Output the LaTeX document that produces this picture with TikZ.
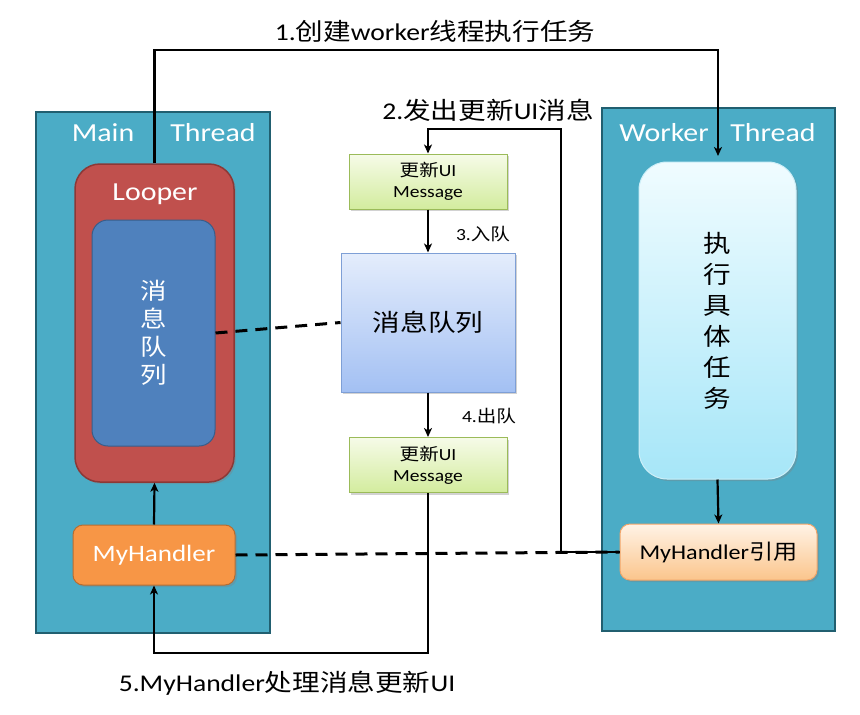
\documentclass[tikz,border=0pt]{standalone}
\usepackage{fontspec}
\setmainfont[FakeStretch=1.15]{Carlito}
\newfontfamily\cjk[FakeStretch=1.15]{Noto Sans CJK SC}
\newcommand\zh[1]{{\cjk #1}}
\usetikzlibrary{arrows.meta,shadows}
\definecolor{panelfill}{HTML}{4BACC6}
\definecolor{paneldraw}{HTML}{215F70}
\definecolor{loopfill}{HTML}{C0504D}
\definecolor{loopdraw}{HTML}{8C3836}
\definecolor{mqfill}{HTML}{4F81BD}
\definecolor{mqdraw}{HTML}{385D8A}
\definecolor{hfill}{HTML}{F79646}
\definecolor{hdraw}{HTML}{B66D31}
\definecolor{msgtop}{HTML}{F6FBE8}
\definecolor{msgbot}{HTML}{D3EC9E}
\definecolor{msgdraw}{HTML}{9BBB59}
\definecolor{qtop}{HTML}{E4EDFC}
\definecolor{qbot}{HTML}{A3C0F3}
\definecolor{qdraw}{HTML}{7E9FD6}
\definecolor{ttop}{HTML}{F0FCFF}
\definecolor{tbot}{HTML}{A6E6F8}
\definecolor{tdraw}{HTML}{CDEFF8}
\definecolor{rtop}{HTML}{FFF3E6}
\definecolor{rbot}{HTML}{FBC58C}
\definecolor{rdraw}{HTML}{F2A66A}
\tikzset{
  box/.style={draw, rectangle, inner sep=0pt, line width=1.5pt},
  panel/.style={box, fill=panelfill, draw=paneldraw},
  shad/.style={drop shadow={opacity=0.35, shadow xshift=2pt, shadow yshift=-2pt}},
  msgbox/.style={box, shad, top color=msgtop, bottom color=msgbot, draw=msgdraw, line width=1pt,
     minimum width=158pt, minimum height=55pt, align=center, font=\fontsize{17}{21}\selectfont},
  conn/.style={line width=2.2pt, -{Stealth[length=9pt,width=8pt,inset=2.5pt]}},
  dashline/.style={line width=3pt, dash pattern=on 12pt off 8pt},
  wlabel/.style={text=white, font=\fontsize{26}{30}\selectfont},
  lbl/.style={font=\fontsize{24}{28}\selectfont},
  slbl/.style={font=\fontsize{17}{20}\selectfont},
}
\begin{document}
\begin{tikzpicture}[x=1pt,y=-1pt]
\fill[white] (0,0) rectangle (860,715);
\useasboundingbox (0,0) rectangle (860,715);

% panels
\node[panel, minimum width=234pt, minimum height=521pt] (mainp) at (153,372.5) {};
\node[panel, minimum width=233pt, minimum height=523pt] (workp) at (718.5,369.5) {};
\node[wlabel] (mainl) at (103,133) {Main};
\node[wlabel] (mainth) at (213,133) {Thread};
\node[wlabel] (workl) at (664,133) {Worker};
\node[wlabel] (workth) at (773,133) {Thread};

% main thread contents
\node[box, shad, fill=loopfill, draw=loopdraw, rounded corners=25pt, minimum width=159pt, minimum height=318pt] (looper) at (154.5,323) {};
\node[wlabel] (looperl) at (155,194) {Looper};
\node[box, fill=mqfill, draw=mqdraw, line width=1pt, rounded corners=16pt, minimum width=123pt, minimum height=226pt, text=white, align=center, font=\fontsize{23}{28}\selectfont\cjk] (mq) at (153.5,333) {消\\息\\队\\列};
\node[box, shad, fill=hfill, draw=hdraw, line width=1pt, rounded corners=10pt, minimum width=162pt, minimum height=60pt, text=white, font=\fontsize{23.5}{28}\selectfont] (myh) at (154,555) {MyHandler};

% worker thread contents
\node[box, shad, top color=ttop, bottom color=tbot, draw=tdraw, line width=1pt, rounded corners=28pt, minimum width=157pt, minimum height=317pt, align=center, font=\fontsize{24}{31}\selectfont\cjk] (task) at (717.5,320.5) {执\\行\\具\\体\\任\\务};
\node[box, shad, top color=rtop, bottom color=rbot, draw=rdraw, line width=1pt, rounded corners=10pt, minimum width=197pt, minimum height=56pt, font=\fontsize{21}{25}\selectfont] (myhref) at (718.5,552) {MyHandler\zh{引用}};

% center column
\node[msgbox] (msg1) at (428,181.5) {\zh{更新}UI\\Message};
\node[box, shad, top color=qtop, bottom color=qbot, draw=qdraw, line width=1pt, minimum width=174pt, minimum height=139pt, font=\fontsize{24}{28}\selectfont\cjk] (queue) at (428,322.5) {消息队列};
\node[msgbox] (msg2) at (428,465) {\zh{更新}UI\\Message};

% labels
\node[lbl] (l1) at (435,31) {1.\zh{创建}worker\zh{线程执行任务}};
\node[lbl] (l2) at (488,110) {2.\zh{发出更新}UI\zh{消息}};
\node[slbl] (l3) at (483,234) {3.\zh{入队}};
\node[slbl] (l4) at (489,416) {4.\zh{出队}};
\node[lbl] (l5) at (287,683) {5.MyHandler\zh{处理消息更新}UI};

% coordinates
\coordinate (c1a) at (154.5,50);
\coordinate (c1b) at (718,50);
\coordinate (t1) at (718,156);
\coordinate (c2a) at (561,552);
\coordinate (c2b) at (561,129);
\coordinate (c2c) at (428,129);
\coordinate (c5a) at (428,653);
\coordinate (c5b) at (154,653);

% connectors
\draw[conn] (looper.north) -- (c1a) -- (c1b) -- (t1);
\draw[conn] (myhref.west) -- (c2a) -- (c2b) -- (c2c) -- (msg1.north);
\draw[conn] (msg1.south) -- (queue.north);
\draw[conn] (queue.south) -- (msg2.north);
\draw[conn] (msg2.south) -- (c5a) -- (c5b) -- (myh.south);
\draw[conn] (myh.north) -- (looper.south);
\draw[conn] (task.south) -- (myhref.north);
\draw[dashline] (mq.east) -- (queue.west);
\draw[dashline] (myh.east) -- (myhref.west);
\end{tikzpicture}
\end{document}
